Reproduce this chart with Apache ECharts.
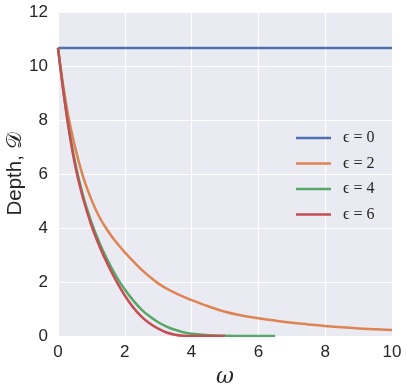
<!DOCTYPE html>
<html>
<head>
<meta charset="utf-8">
<script src="https://cdn.jsdelivr.net/npm/echarts@6/dist/echarts.min.js"></script>
<style>
  html, body { margin: 0; padding: 0; background: #fff; }
  #depthChart { width: 407px; height: 391px; }
</style>
</head>
<body>
<div id="depthChart"></div>
<script>
// omega samples (x axis)
var omega = [0, 0.25, 0.5, 0.75, 1, 1.25, 1.5, 1.75, 2, 2.25, 2.5, 2.75, 3, 3.25, 3.5, 3.75, 4,
  4.5, 5, 5.5, 6, 6.5, 7, 7.5, 8, 8.5, 9, 9.5, 10];
var omegaFlat = [0, 10];
// depth, one array per epsilon
var depthEps0 = [10.67, 10.67];
var depthEps2 = [10.67, 8.55, 7.05, 5.9, 5.05, 4.38, 3.88, 3.46, 3.1, 2.77, 2.46, 2.19, 1.95, 1.76, 1.6, 1.46, 1.33,
  1.1, 0.9, 0.76, 0.66, 0.57, 0.49, 0.43, 0.37, 0.32, 0.28, 0.25, 0.22];
var depthEps4 = [10.67, 8.3, 6.5, 5.2, 4.22, 3.43, 2.77, 2.2, 1.72, 1.32, 0.98, 0.72, 0.51, 0.35, 0.23, 0.14, 0.08,
  0.025, 0.007, 0.002, 0, 0];
var depthEps6 = [10.67, 8.25, 6.4, 5.1, 4.1, 3.3, 2.62, 2.02, 1.5, 1.06, 0.72, 0.46, 0.27, 0.13, 0.05, 0.01, 0,
  0, 0];
var legendNames = ['\u03f5 = 0', '\u03f5 = 2', '\u03f5 = 4', '\u03f5 = 6'];
var colors = ['#4C72B0', '#DD8452', '#55A868', '#C44E52'];
var xTicks = [0, 10, 2];
var yTicks = [0, 12, 2];

function pairs(xs, ys) {
  var out = [];
  for (var i = 0; i < ys.length; i++) {
    out.push([xs[i], ys[i]]);
  }
  return out;
}

var chart = echarts.init(document.getElementById('depthChart'));
var seriesData = [
  pairs(omegaFlat, depthEps0),
  pairs(omega, depthEps2),
  pairs(omega, depthEps4),
  pairs(omega, depthEps6)
];
var series = [];
for (var i = 0; i < seriesData.length; i++) {
  series.push({
    name: legendNames[i],
    type: 'line',
    data: seriesData[i],
    symbol: 'none',
    smooth: 0.4,
    lineStyle: { width: 2.5, color: colors[i] },
    itemStyle: { color: colors[i] },
    z: 2 + i
  });
}

var tickFont = { color: '#262626', fontSize: 17, fontFamily: 'Liberation Sans' };

chart.setOption({
  animation: false,
  backgroundColor: '#ffffff',
  grid: {
    left: 58, right: 15, top: 12, bottom: 55,
    outerBoundsMode: 'none',
    show: true, backgroundColor: '#EAEAF2', borderWidth: 0
  },
  legend: {
    data: legendNames,
    orient: 'vertical',
    left: 291,
    top: 125,
    itemWidth: 35,
    itemHeight: 14,
    itemGap: 9.5,
    icon: 'path://M0,0 L35,0 L35,2.5 L0,2.5 Z',
    textStyle: { color: '#262626', fontSize: 16, fontFamily: 'Liberation Serif', padding: [0, 0, 0, 7] }
  },
  xAxis: {
    type: 'value',
    min: xTicks[0], max: xTicks[1], interval: xTicks[2],
    name: '\u03c9',
    nameLocation: 'middle',
    nameGap: 30,
    nameMoveOverlap: false,
    nameTextStyle: { fontSize: 22, fontStyle: 'italic', fontFamily: 'DejaVu Serif', color: '#262626' },
    axisLine: { show: false },
    axisTick: { show: false },
    axisLabel: Object.assign({ margin: 8 }, tickFont),
    splitLine: { show: true, lineStyle: { color: '#ffffff', width: 1.2 } }
  },
  yAxis: {
    type: 'value',
    min: yTicks[0], max: yTicks[1], interval: yTicks[2],
    name: 'Depth, \ud835\udc9f',
    nameLocation: 'middle',
    nameGap: 32,
    nameMoveOverlap: false,
    nameTextStyle: { fontSize: 20.5, fontFamily: 'Liberation Sans', color: '#262626' },
    axisLine: { show: false },
    axisTick: { show: false },
    axisLabel: Object.assign({ margin: 10 }, tickFont),
    splitLine: { show: true, lineStyle: { color: '#ffffff', width: 1.2 } }
  },
  series: series
});
</script>
</body>
</html>
